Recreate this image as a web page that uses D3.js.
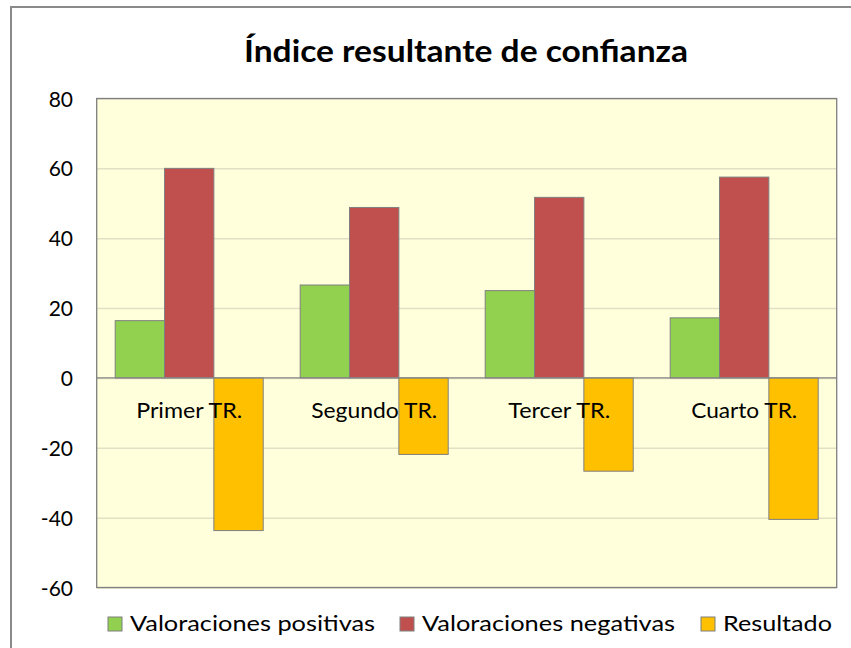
<!DOCTYPE html>
<html>
<head>
<meta charset="utf-8">
<script src="https://cdn.jsdelivr.net/npm/d3@7"></script>
<style>
  html, body { margin: 0; padding: 0; background: #fff; }
  svg { display: block; }
  text { font-family: Lato, "Open Sans", sans-serif; fill: #000; }
</style>
</head>
<body>
<script>
const title = "Índice resultante de confianza";
const categories = ["Primer TR.", "Segundo TR.", "Tercer TR.", "Cuarto TR."];
const seriesNames = ["Valoraciones positivas", "Valoraciones negativas", "Resultado"];
const positivas = [16.4, 26.6, 25.0, 17.2];
const negativas = [60.0, 48.8, 51.7, 57.5];
const resultado = [-43.7, -21.9, -26.7, -40.5];
const yTicks = [-60, -40, -20, 0, 20, 40, 60, 80];

const colors = ["#92D050", "#C0504D", "#FFC000"];
const seriesValues = [positivas, negativas, resultado];

const W = 851, H = 648;
const svg = d3.select("body").append("svg").attr("width", W).attr("height", H);

// outer chart frame
svg.append("rect").attr("x", 11).attr("y", 7).attr("width", W + 20).attr("height", H + 20)
  .attr("fill", "#fff").attr("stroke", "#8a8a8a").attr("stroke-width", 2);

const plot = { left: 96.7, right: 836.7, top: 98.5, bottom: 587.5 };

const y = d3.scaleLinear().domain([-60, 80]).range([plot.bottom, plot.top]);
const x0 = d3.scaleBand().domain(categories).range([plot.left, plot.right]).padding(0);
const x1 = d3.scaleBand().domain(seriesNames).range([18.5, x0.bandwidth() - 18.5]).padding(0);

// plot background
svg.append("rect").attr("x", plot.left).attr("y", plot.top)
  .attr("width", plot.right - plot.left).attr("height", plot.bottom - plot.top)
  .attr("fill", "#FFFFDC");

// gridlines
const grid = d3.axisLeft(y).tickValues(yTicks).tickSize(-(plot.right - plot.left)).tickFormat("");
const gg = svg.append("g").attr("transform", `translate(${plot.left},0)`).call(grid);
gg.select(".domain").remove();
gg.selectAll(".tick line").attr("stroke", "#E2DFC4").attr("stroke-width", 1.5);

// tick labels (plain hyphen for negatives)
const ax = d3.axisLeft(y).tickValues(yTicks).tickSize(0).tickPadding(0).tickFormat(d => String(d));
const ag = svg.append("g").attr("transform", `translate(73,0)`).call(ax);
ag.select(".domain").remove();
ag.selectAll(".tick text")
  .attr("font-family", "Lato, 'Open Sans', sans-serif")
  .attr("font-size", 21).attr("fill", "#000").attr("dy", "0.36em");

// bars
const rows = categories.map((c, i) => ({ cat: c, vals: seriesNames.map((s, j) => ({ s, j, v: seriesValues[j][i] })) }));
const groups = svg.append("g").selectAll("g").data(rows).join("g")
  .attr("transform", d => `translate(${x0(d.cat)},0)`);
groups.selectAll("rect").data(d => d.vals).join("rect")
  .attr("x", d => x1(d.s))
  .attr("width", x1.bandwidth())
  .attr("y", d => y(Math.max(0, d.v)))
  .attr("height", d => Math.abs(y(d.v) - y(0)))
  .attr("fill", d => colors[d.j])
  .attr("stroke", "#7F7F7F").attr("stroke-width", 1);

// zero axis line and plot border
svg.append("line").attr("x1", plot.left).attr("x2", plot.right).attr("y1", y(0)).attr("y2", y(0))
  .attr("stroke", "#868686").attr("stroke-width", 1.2);
svg.append("rect").attr("x", plot.left).attr("y", plot.top)
  .attr("width", plot.right - plot.left).attr("height", plot.bottom - plot.top)
  .attr("fill", "none").attr("stroke", "#7F7F7F").attr("stroke-width", 1.3);

// category labels (drawn inside the plot, just under zero)
const catWidths = [106, 126, 102, 106];
svg.append("g").selectAll("text").data(categories).join("text")
  .attr("x", d => x0(d) + x0.bandwidth() / 2)
  .attr("y", 418)
  .attr("text-anchor", "middle")
  .attr("font-size", 21)
  .attr("textLength", (d, i) => catWidths[i])
  .attr("lengthAdjust", "spacingAndGlyphs")
  .text(d => d);

// title
svg.append("text").attr("x", 244).attr("y", 62)
  .attr("font-size", 30).attr("font-weight", "bold")
  .attr("textLength", 444).attr("lengthAdjust", "spacingAndGlyphs")
  .text(title);

// legend
const legendPos = [
  { sq: 108, tx: 130, w: 245 },
  { sq: 400, tx: 422, w: 253 },
  { sq: 701, tx: 723, w: 109 }
];
const lg = svg.append("g").selectAll("g").data(seriesNames).join("g");
lg.append("rect")
  .attr("x", (d, i) => legendPos[i].sq).attr("y", 617)
  .attr("width", 14).attr("height", 14)
  .attr("fill", (d, i) => colors[i]).attr("stroke", "#7F7F7F").attr("stroke-width", 1);
lg.append("text")
  .attr("x", (d, i) => legendPos[i].tx).attr("y", 631)
  .attr("font-size", 22)
  .attr("textLength", (d, i) => legendPos[i].w)
  .attr("lengthAdjust", "spacingAndGlyphs")
  .text(d => d);
</script>
</body>
</html>
